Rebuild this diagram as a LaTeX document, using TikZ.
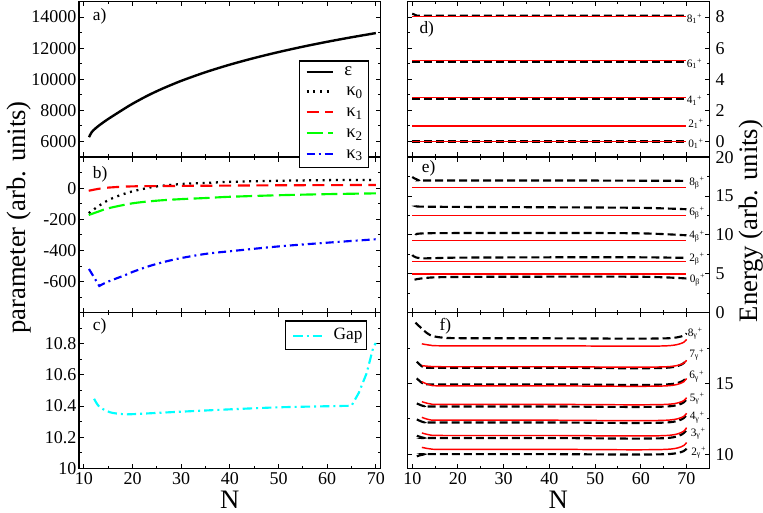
\documentclass[tikz,border=0pt]{standalone}
\usepackage{fontspec}
\setmainfont{Liberation Serif}
\definecolor{mycyan}{RGB}{0,255,255}
\definecolor{myred}{RGB}{255,0,0}
\definecolor{mygreen}{RGB}{0,255,0}
\definecolor{myblue}{RGB}{0,0,255}
\newcommand\myxt[2]{%
  \foreach \n in {10,20,...,70}{\draw[tkl] (\n,#1) -- ++(0pt,3.5pt); \draw[tkl] (\n,#2) -- ++(0pt,-3.5pt);}%
  \foreach \n in {15,25,...,65}{\draw[tkl] (\n,#1) -- ++(0pt,2pt); \draw[tkl] (\n,#2) -- ++(0pt,-2pt);}}
\newcommand\myyt[4]{%
  \foreach \v in {#3}{\draw[tkl] (#1,\v) -- ++(3.5pt,0pt); \draw[tkl] (#2,\v) -- ++(-3.5pt,0pt);}%
  \foreach \v in {#4}{\draw[tkl] (#1,\v) -- ++(2pt,0pt); \draw[tkl] (#2,\v) -- ++(-2pt,0pt);}}
\begin{document}
\begin{tikzpicture}[x=0.75pt,y=-0.75pt,
  pframe/.style={line width=1.1pt},
  tkl/.style={line width=0.75pt},
  ticklab/.style={font=\fontsize{13.5}{14}\selectfont, inner sep=0pt},
  plab/.style={font=\fontsize{13}{14}\selectfont, inner sep=0pt, anchor=base west},
  axl/.style={font=\fontsize{20}{20}\selectfont, inner sep=0pt, anchor=base},
  slab/.style={font=\fontsize{8.5}{9}\selectfont, inner sep=0pt, anchor=base west},
  legt/.style={font=\fontsize{14}{14}\selectfont, inner sep=0pt, anchor=base west},
  epsl/.style={line width=1.8pt},
  kzero/.style={line width=1.7pt, dash pattern=on 1.5pt off 3.5pt},
  kone/.style={myred, line width=1.6pt, dash pattern=on 9pt off 5pt},
  ktwo/.style={mygreen, line width=1.6pt, dash pattern=on 12pt off 4pt},
  kthree/.style={myblue, line width=1.6pt, dash pattern=on 6pt off 3pt on 1.5pt off 3pt},
  gapline/.style={mycyan, line width=1.6pt, dash pattern=on 7pt off 3pt on 1.5pt off 3pt},
  bdash/.style={line width=1.6pt, dash pattern=on 6pt off 3pt},
  rsol/.style={myred, line width=1.1pt},
  legbox/.style={draw, fill=white, line width=0.9pt}]
\useasboundingbox (0,0) rectangle (763,512);

% ---------- panel a ----------
\begin{scope}[xshift=26.4045pt,yshift=-176.175pt,x=3.6495pt,y=11.67pt]
  \myxt{5}{15}
  \myyt{9}{71}{6,8,10,12,14}{7,9,11,13}
  \foreach \v [count=\i] in {6,8,10,12,14}
    \node[ticklab,anchor=east,xshift=-1.8pt] (ya\i) at (9,\v) {\v000};
  \draw[epsl] plot[smooth] coordinates {(11.06,6.28) (11.6,6.6) (12.4,6.85) (13.5,7.12) (15,7.45) (18,8.048) (20,8.43) (23,8.936) (26,9.38) (30,9.899) (35,10.457) (40,10.942) (45,11.368) (50,11.75) (55,12.096) (60,12.411) (65,12.701) (70,12.97)};
  \draw[pframe] (9,5) rectangle (71,15);
\end{scope}
\node[plab] (pa) at (92.7,20.5) {a)};

% ---------- panel b ----------
\begin{scope}[xshift=26.4045pt,yshift=-141.165pt,x=3.6495pt,y=11.67pt]
  \myxt{-8}{2}
  \myyt{9}{71}{-6,-4,-2,0}{-7,-5,-3,-1,1}
  \foreach \v/\t [count=\i] in {-6/-600,-4/-400,-2/-200,0/0}
    \node[ticklab,anchor=east,xshift=-1.8pt] (yb\i) at (9,\v) {\t};
  \draw[kzero] plot[smooth] coordinates {(11,-1.6) (13,-1.15) (15,-0.77) (17,-0.5) (20,-0.2) (24.6,0.1) (30,0.27) (35,0.34) (40,0.41) (50,0.48) (60,0.52) (70,0.53)};
  \draw[kone] plot[smooth] coordinates {(11,-0.16) (13,-0.04) (15,0.04) (20,0.12) (30,0.15) (40,0.17) (50,0.19) (60,0.2) (70,0.21)};
  \draw[ktwo] plot[smooth] coordinates {(11,-1.72) (13,-1.5) (15,-1.29) (20,-0.97) (25,-0.8) (30,-0.7) (35,-0.63) (40,-0.55) (50,-0.45) (60,-0.38) (70,-0.33)};
  \draw[kthree] (11.05,-5.19) -- plot[smooth] coordinates {(13.17,-6.28) (15,-6.0) (18.5,-5.58) (20,-5.38) (24,-4.95) (29,-4.55) (35,-4.22) (40,-4.05) (50,-3.74) (60,-3.5) (70,-3.28)};
  \draw[pframe] (9,-8) rectangle (71,2);
\end{scope}
\node[plab] (pb) at (92.7,178.7) {b)};

% ---------- panel c ----------
\begin{scope}[xshift=26.4045pt,yshift=-351.225pt,x=3.6495pt,y=11.67pt]
  \myxt{0}{10}
  \myyt{9}{71}{2,4,6,8}{1,3,5,7,9}
  \foreach \v/\t [count=\i] in {0/10,2/10.2,4/10.4,6/10.6,8/10.8}
    \node[ticklab,anchor=east,xshift=-1.8pt] (yc\i) at (9,\v) {\t};
  \foreach \n [count=\i] in {10,20,...,70}
    \node[ticklab,anchor=north,yshift=-2.6pt] (xc\i) at (\n,0) {\n};
  \draw[gapline] plot[smooth] coordinates {(12.1,4.47) (13.2,3.95) (15.4,3.6) (18,3.48) (20,3.48) (25,3.56) (30,3.64) (40,3.79) (50,3.92) (60,3.99) (65,4.02)}
     -- (66.5,4.85) -- (68.1,6.1) -- (69.5,7.8) -- (70,8.05);
  \draw[pframe] (9,0) rectangle (71,10);
\end{scope}
\node[plab] (pc) at (92.7,330.3) {c)};

% ---------- legends ----------
\draw[legbox] (299.3,61) rectangle (368.3,167.7);
\coordinate (la1) at (306.7,71.7);  \coordinate (lb1) at (333.3,71.7);
\coordinate (la2) at (306.7,91.5);  \coordinate (lb2) at (333.3,91.5);
\coordinate (la3) at (306.7,112.3); \coordinate (lb3) at (333.3,112.3);
\coordinate (la4) at (306.7,133.3); \coordinate (lb4) at (333.3,133.3);
\coordinate (la5) at (306.7,154);   \coordinate (lb5) at (333.3,154);
\draw[epsl] (la1) -- (lb1);
\draw[kzero] (la2) -- (lb2);
\draw[kone] (la3) -- (lb3);
\draw[ktwo] (la4) -- (lb4);
\draw[kthree] (la5) -- (lb5);
\node[legt] (le1) at (344,75.7) {ε};
\node[legt] (le2) at (346,95.5) {κ\textsubscript{0}};
\node[legt] (le3) at (346,116.3) {κ\textsubscript{1}};
\node[legt] (le4) at (346,137.3) {κ\textsubscript{2}};
\node[legt] (le5) at (346,158) {κ\textsubscript{3}};

\draw[legbox] (285.7,321) rectangle (366.7,349.3);
\coordinate (ga) at (293.3,335.7); \coordinate (gb) at (321.7,335.7);
\draw[gapline] (ga) -- (gb);
\node[font=\fontsize{13}{14}\selectfont, inner sep=0pt, anchor=base west] (gt) at (333.3,339.8) {Gap};

% ---------- panel d ----------
\begin{scope}[xshift=274.9275pt,yshift=-106.155pt,x=3.4273pt,y=11.67pt]
  \myxt{-1}{9}
  \myyt{9}{75}{0,2,4,6,8}{1,3,5,7}
  \foreach \v [count=\i] in {0,2,4,6,8}
    \node[ticklab,anchor=west,xshift=4.5pt] (yd\i) at (75,\v) {\v};
  \draw[bdash] (10,8.22) -- (11,8.09) -- (70,8.09);
  \draw[bdash] (10,5.09) -- (70,5.09);
  \draw[bdash] (10,2.71) -- (70,2.71);
  \draw[bdash] (10,0.98) -- (70,0.98);
  \draw[bdash] (10,0) -- (70,0);
  \draw[rsol] (10,8.02) -- (70,8.02);
  \draw[rsol] (10,5.2) -- (70,5.2);
  \draw[rsol] (10,2.82) -- (70,2.82);
  \draw[rsol] (10,1.0) -- (70,1.0);
  \draw[rsol] (10,0) -- (70,0);
  \draw[pframe] (9,-1) rectangle (75,9);
\end{scope}
\node[plab] (pd) at (419.3,33.7) {d)};
\node[slab] (sd8) at (686.5,22.1) {8\textsubscript{1}\textsuperscript{+}};
\node[slab] (sd6) at (686.5,67.1) {6\textsubscript{1}\textsuperscript{+}};
\node[slab] (sd4) at (686.5,103.8) {4\textsubscript{1}\textsuperscript{+}};
\node[slab] (sd2) at (688,127.1) {2\textsubscript{1}\textsuperscript{+}};
\node[slab] (sd0) at (688,147.1) {0\textsubscript{1}\textsuperscript{+}};

% ---------- panel e ----------
\begin{scope}[xshift=274.9275pt,yshift=-234.525pt,x=3.4273pt,y=5.835pt]
  \myxt{0}{20}
  \myyt{9}{75}{5,10,15}{2.5,7.5,12.5,17.5}
  \foreach \v [count=\i] in {0,5,10,15,20}
    \node[ticklab,anchor=west,xshift=4.5pt] (ye\i) at (75,\v) {\v};
  \draw[bdash] plot[smooth] coordinates {(10,17.45) (11.3,17.05) (14,17.0) (40,17.0) (70,16.95)};
  \draw[bdash] plot[smooth] coordinates {(11,13.68) (14,13.62) (40,13.55) (60,13.48) (70,13.3)};
  \draw[bdash] plot[smooth] coordinates {(11,10.05) (14,10.22) (40,10.25) (60,10.2) (70,9.95)};
  \draw[bdash] plot[smooth] coordinates {(10,7.42) (11.8,7.0) (20,7.08) (40,7.12) (60,7.12) (70,7.05)};
  \draw[bdash] plot[smooth] coordinates {(10.5,4.25) (15,4.55) (30,4.62) (60,4.62) (70,4.4)};
  \draw[rsol] (10,16.08) -- (70,16.08);
  \draw[rsol] (10,12.47) -- (70,12.47);
  \draw[rsol] (10,9.28) -- (70,9.28);
  \draw[rsol] (10,6.6) -- (70,6.6);
  \draw[rsol] (10,5.0) -- (70,5.0);
  \draw[pframe] (9,0) rectangle (75,20);
\end{scope}
\node[plab] (pe) at (421.7,172) {e)};
\node[slab] (se8) at (689,185.5) {8\textsubscript{β}\textsuperscript{+}};
\node[slab] (se6) at (689,215.5) {6\textsubscript{β}\textsuperscript{+}};
\node[slab] (se4) at (689,238.8) {4\textsubscript{β}\textsuperscript{+}};
\node[slab] (se2) at (689,261.1) {2\textsubscript{β}\textsuperscript{+}};
\node[slab] (se0) at (689.5,282.1) {0\textsubscript{β}\textsuperscript{+}};

% ---------- panel f ----------
\begin{scope}[xshift=274.9275pt,yshift=-446.7pt,x=3.4273pt,y=10.609pt]
  \myxt{9}{20}
  \myyt{9}{75}{10,15}{12.5,17.5}
  \foreach \v [count=\i] in {10,15}
    \node[ticklab,anchor=west,xshift=4.5pt] (yf\i) at (75,\v) {\v};
  \foreach \n [count=\i] in {10,20,...,70}
    \node[ticklab,anchor=north,yshift=-2.6pt] (xf\i) at (\n,9) {\n};
  \draw[bdash] plot[smooth,tension=0.5] coordinates {(10.7,19.3) (12.5,18.75) (13.9,18.42) (16,18.26) (20,18.2) (40,18.19) (65.7,18.19) (70,18.55)};
  \foreach \s/\m/\l/\e in {16.54/16.14/16.11/16.7, 15.36/14.97/14.93/15.45, 13.59/13.4/13.37/13.9, 12.46/12.26/12.24/12.8, 11.3/11.16/11.14/11.77, 9.85/9.98/10.0/10.4}
    \draw[bdash] plot[smooth,tension=0.5] coordinates {(11,\s) (12.5,\m) (15,\l) (40,\l) (65.7,\l) (70,\e)};
  \foreach \s/\m/\l/\e in {17.8/17.7/17.66/18.12, 16.26/16.2/16.18/16.65, 15.12/14.88/14.83/15.36, 13.71/13.55/13.52/14.0, 12.6/12.42/12.4/12.9, 11.5/11.35/11.32/11.88, 10.48/10.37/10.34/10.83}
    \draw[rsol] plot[smooth,tension=0.5] coordinates {(12.1,\s) (14,\m) (17,\l) (40,\l) (65.7,\l) (70,\e)};
  \draw[pframe] (9,9) rectangle (75,20);
\end{scope}
\node[plab] (pf) at (439.3,330.3) {f)};
\node[slab] (sf8) at (687.5,336.5) {8\textsubscript{γ}\textsuperscript{+}};
\node[slab] (sf7) at (689,357.1) {7\textsubscript{γ}\textsuperscript{+}};
\node[slab] (sf6) at (689,378.8) {6\textsubscript{γ}\textsuperscript{+}};
\node[slab] (sf5) at (689.5,401.1) {5\textsubscript{γ}\textsuperscript{+}};
\node[slab] (sf4) at (689.5,419.8) {4\textsubscript{γ}\textsuperscript{+}};
\node[slab] (sf3) at (690.5,436.1) {3\textsubscript{γ}\textsuperscript{+}};
\node[slab] (sf2) at (691,455.5) {2\textsubscript{γ}\textsuperscript{+}};

% ---------- axis labels ----------
\node[axl] (nl) at (229.7,508) {N};
\node[axl] (nr) at (558.3,508) {N};
\node[axl,rotate=90] (pl) at (25,217.5) {parameter (arb. units)};
\node[axl,rotate=90] (el) at (757.5,221) {Energy (arb. units)};
\end{tikzpicture}
\end{document}
